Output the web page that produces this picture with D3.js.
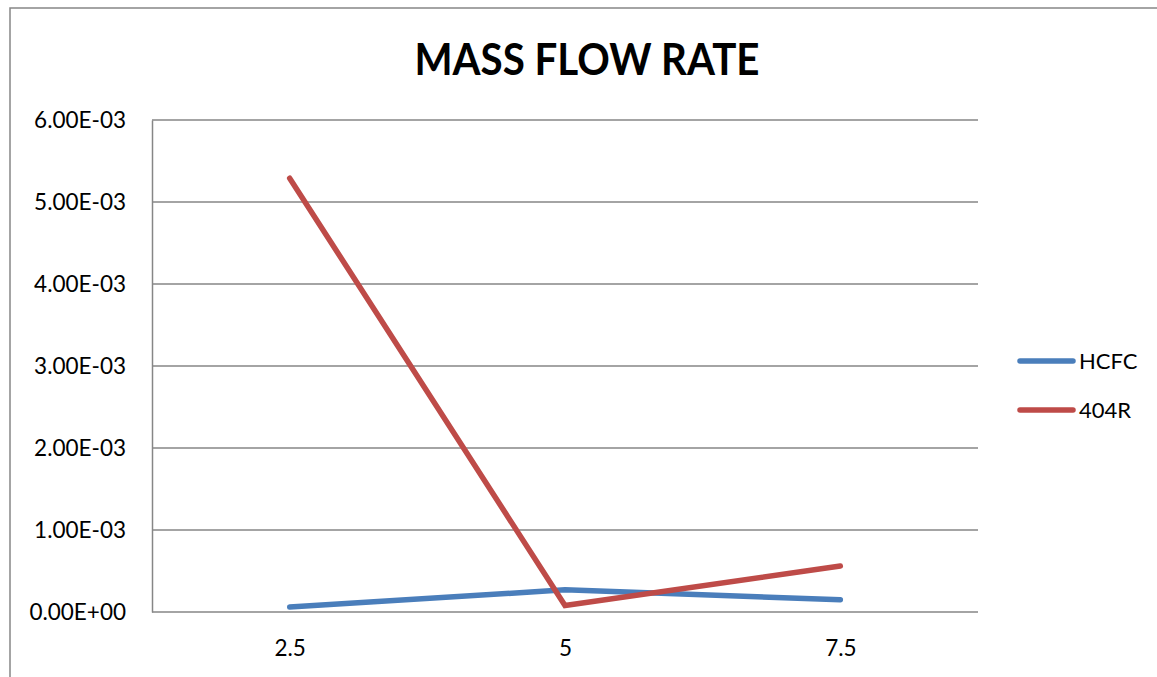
<!DOCTYPE html>
<html>
<head>
<meta charset="utf-8">
<script src="https://cdn.jsdelivr.net/npm/d3@7"></script>
<style>
  body { margin: 0; background: #fff; }
  text { font-family: Lato, "Open Sans", sans-serif; fill: #000; }
</style>
</head>
<body>
<div id="chart"></div>
<script>
// data
const categories = ['2.5', '5', '7.5'];
const seriesNames = ['HCFC', '404R'];
const hcfcValues = [0.00006, 0.00027, 0.00015];
const r404Values = [0.00529, 0.00008, 0.00056];
const yTicks = [0, 0.001, 0.002, 0.003, 0.004, 0.005, 0.006];

const colors = ['#4a7ebb', '#be4b48'];

const width = 1157, height = 677;
const margin = { top: 120, right: 179, bottom: 65, left: 152 };
const innerW = width - margin.left - margin.right;
const innerH = height - margin.top - margin.bottom;

const svg = d3.select('#chart').append('svg')
    .attr('width', width)
    .attr('height', height);

// outer chart border
svg.append('rect')
    .attr('x', 10).attr('y', 8)
    .attr('width', width).attr('height', height)
    .attr('fill', 'none')
    .attr('stroke', '#868686')
    .attr('stroke-width', 1.5);

// title
svg.append('text')
    .attr('x', 587).attr('y', 75)
    .attr('text-anchor', 'middle')
    .attr('font-size', 43)
    .attr('font-weight', 'bold')
    .attr('textLength', 345)
    .attr('lengthAdjust', 'spacingAndGlyphs')
    .text('MASS FLOW RATE');

const chart = svg.append('g')
    .attr('transform', `translate(${margin.left},${margin.top})`);

const xScale = d3.scalePoint()
    .domain(categories)
    .range([0, innerW])
    .padding(0.5);
const yScale = d3.scaleLinear()
    .domain([0, 0.006])
    .range([innerH, 0]);

// gridlines
chart.append('g')
    .selectAll('line')
    .data(yTicks)
  .join('line')
    .attr('x1', 0).attr('x2', innerW)
    .attr('y1', d => yScale(d)).attr('y2', d => yScale(d))
    .attr('stroke', '#868686')
    .attr('stroke-width', 1.5);

// y axis
const yAxis = d3.axisLeft(yScale)
    .tickValues(yTicks)
    .tickSize(0)
    .tickPadding(26)
    .tickFormat(d => d3.format('.2e')(d).toUpperCase()
        .replace(/E([+-])(\d)$/, 'E$10$2'));
const yAxisGroup = chart.append('g').call(yAxis);
yAxisGroup.select('.domain').attr('stroke', '#868686').attr('stroke-width', 1.5);
yAxisGroup.selectAll('text').attr('font-size', 22.5).attr('font-family', 'Lato, sans-serif');

// x axis
const xAxis = d3.axisBottom(xScale).tickSize(0).tickPadding(28);
const xAxisGroup = chart.append('g')
    .attr('transform', `translate(0,${innerH})`)
    .call(xAxis);
xAxisGroup.select('.domain').remove();
xAxisGroup.selectAll('text').attr('font-size', 22.5).attr('font-family', 'Lato, sans-serif');

// lines
const lineFunc = d3.line()
    .x((d, i) => xScale(categories[i]))
    .y(d => yScale(d));

const seriesData = [hcfcValues, r404Values];
chart.selectAll('.chart-line')
    .data(seriesData)
  .join('path')
    .attr('class', 'chart-line')
    .attr('d', lineFunc)
    .attr('fill', 'none')
    .attr('stroke', (d, i) => colors[i])
    .attr('stroke-width', 5.5)
    .attr('stroke-linejoin', 'miter')
    .attr('stroke-linecap', 'round');

// legend
const legend = svg.append('g')
    .attr('transform', 'translate(1020,361)');
const items = legend.selectAll('g')
    .data(seriesNames)
  .join('g')
    .attr('transform', (d, i) => `translate(0,${i * 49})`);
items.append('line')
    .attr('x1', 0).attr('x2', 53)
    .attr('stroke', (d, i) => colors[i])
    .attr('stroke-width', 5.5)
    .attr('stroke-linecap', 'round');
items.append('text')
    .attr('x', 59).attr('y', 8)
    .attr('font-size', 22)
    .text(d => d);
</script>
</body>
</html>
